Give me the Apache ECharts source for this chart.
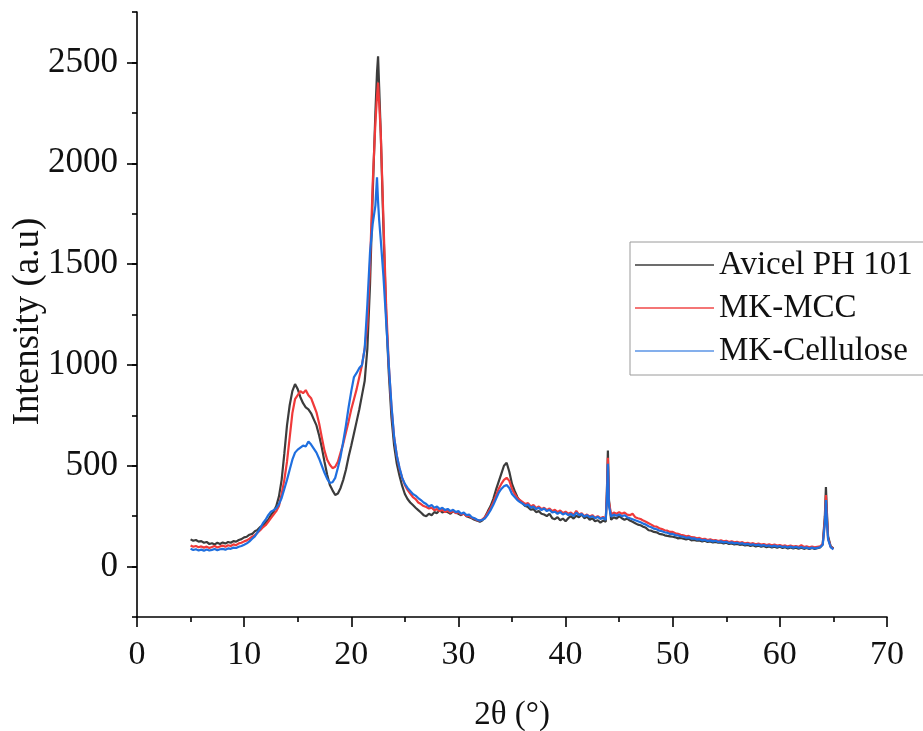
<!DOCTYPE html>
<html>
<head>
<meta charset="utf-8">
<script src="https://cdn.jsdelivr.net/npm/echarts@6/dist/echarts.min.js"></script>
<style>html,body{margin:0;padding:0;background:#fff}#chart{width:923px;height:731px}</style>
</head>
<body>
<div id="chart"></div>
<script>
// 2θ sampling positions (degrees)
const twoTheta = [
  5,5.25,5.5,5.75, 6,6.25,6.5,6.75, 7,7.25,7.5,7.75, 8,8.25,8.5,8.75,
  9,9.25,9.5,9.75, 10,10.25,10.5,10.75, 11,11.25,11.5,11.75, 12,12.25,12.5,12.75,
  13,13.25,13.5,13.75, 14,14.25,14.5,14.75, 15,15.25,15.5,15.75, 16,16.25,16.5,16.75,
  17,17.25,17.5,17.75, 18,18.25,18.5,18.75, 19,19.25,19.5,19.75, 20,20.25,20.5,20.75,
  21,21.25,21.5,21.75,
  22,22.25,22.4,22.5,22.6,
  22.75,23,23.25,23.5,23.75,
  24,24.25,24.5,24.75, 25,25.25,25.5,25.75, 26,26.25,26.5,26.75, 27,27.25,27.5,27.75,
  28,28.25,28.5,28.75, 29,29.25,29.5,29.75, 30,30.25,30.5,30.75, 31,31.25,31.5,31.75,
  32,32.25,32.5,32.75, 33,33.25,33.5,33.75, 34,34.25,34.5,34.75, 35,35.25,35.5,35.75,
  36,36.25,36.5,36.75, 37,37.25,37.5,37.75, 38,38.25,38.5,38.75, 39,39.25,39.5,39.75,
  40,40.25,40.5,40.75, 41,41.25,41.5,41.75, 42,42.25,42.5,42.75, 43,43.25,43.5,43.75,
  43.85,43.95,44.05,
  44.25,44.5,44.75,
  45,45.25,45.5,45.75, 46,46.25,46.5,46.75, 47,47.25,47.5,47.75, 48,48.25,48.5,48.75,
  49,49.25,49.5,49.75, 50,50.25,50.5,50.75, 51,51.25,51.5,51.75, 52,52.25,52.5,52.75,
  53,53.25,53.5,53.75, 54,54.25,54.5,54.75, 55,55.25,55.5,55.75, 56,56.25,56.5,56.75,
  57,57.25,57.5,57.75, 58,58.25,58.5,58.75, 59,59.25,59.5,59.75, 60,60.25,60.5,60.75,
  61,61.25,61.5,61.75, 62,62.25,62.5,62.75, 63,63.25,63.5,63.75,
  64,64.2,64.3,64.4,64.5,
  64.75,65
];

const avicel = [
  135,128,132,124, 126,118,122,112, 116,110,118,112, 120,114,122,118,
  126,124,132,136, 145,148,158,162, 175,182,196,204, 218,232,255,272,
  300,348,430,560, 700,800,870,905, 880,840,810,790, 780,760,730,700,
  650,590,520,455, 405,378,355,362, 390,430,480,545, 600,660,720,780,
  850,920,1080,1400,
  1850,2250,2450,2530,2380,
  2150,1680,1250,960,740,
  600,510,450,400, 360,335,318,305, 292,280,268,255, 250,262,255,270,
  265,280,268,275, 270,262,275,268, 262,255,265,250, 245,240,232,228,
  222,230,248,275, 300,335,380,420, 460,500,515,470, 410,375,345,325,
  312,300,295,282, 285,270,275,262, 258,250,262,240, 235,245,230,238,
  225,240,250,238, 252,245,258,240, 248,232,240,225, 230,218,228,222,
  360,575,330,
  232,245,238,
  250,240,232,238, 228,222,215,208, 205,198,192,180, 178,172,170,162,
  160,155,152,150, 148,145,140,142, 138,135,138,130, 132,128,130,125,
  128,122,125,120, 122,118,120,115, 118,112,115,110, 112,108,110,105,
  108,102,106,100, 104,98,102,96, 100,95,99,94, 98,92,96,90,
  95,90,94,88, 93,88,92,87, 92,88,91,95,
  110,250,395,260,150,
  100,90
];

const mkMCC = [
  105,98,102,96, 100,94,99,92, 97,102,95,100, 104,98,106,102,
  110,106,115,118, 125,130,138,148, 155,168,180,195, 205,222,240,258,
  275,300,360,430, 520,640,760,830, 850,870,860,875, 850,835,800,765,
  710,640,575,530, 505,488,495,520, 565,610,665,720, 780,830,880,940,
  1000,1080,1200,1500,
  1900,2200,2330,2400,2300,
  2150,1720,1300,1000,790,
  640,550,485,440, 405,380,362,345, 335,318,310,300, 295,288,292,280,
  285,275,282,270, 278,268,275,265, 270,258,262,250, 252,242,238,230,
  228,235,245,268, 290,318,350,385, 410,430,440,425, 385,360,340,330,
  320,310,315,298, 305,290,298,285, 292,280,288,275, 282,270,278,265,
  272,262,268,255, 276,258,265,250, 258,248,255,242, 250,240,246,238,
  350,540,320,
  258,268,262,
  270,262,268,258, 255,262,245,240, 236,228,222,215, 208,200,198,190,
  186,180,178,172, 172,165,162,158, 155,150,152,146, 145,140,142,136,
  138,132,135,130, 132,127,130,125, 128,122,125,120, 123,118,121,115,
  118,113,116,111, 114,109,112,107, 110,106,109,104, 107,102,105,100,
  104,99,102,98, 106,97,100,96, 99,95,98,100,
  112,230,355,240,140,
  98,88
];

const mkCellulose = [
  88,82,86,80, 84,79,85,80, 83,87,81,86, 88,84,90,88,
  94,92,98,102, 108,115,125,138, 150,170,190,215, 232,255,272,280,
  290,310,340,385, 430,480,530,565, 580,590,600,595, 620,605,585,565,
  535,500,465,435, 415,418,440,490, 545,620,700,790, 870,940,960,985,
  1000,1080,1300,1560,
  1700,1790,1930,1810,1720,
  1620,1440,1220,1000,800,
  640,550,490,440, 410,390,375,360, 352,340,330,318, 310,298,305,292,
  298,285,292,280, 286,275,282,270, 275,262,268,255, 258,245,240,232,
  228,232,240,258, 280,305,335,365, 385,398,405,390, 360,345,330,320,
  312,302,308,292, 298,285,292,280, 288,275,282,268, 272,262,270,258,
  265,255,262,250, 268,255,260,248, 255,245,250,240, 246,236,242,232,
  330,510,300,
  248,258,252,
  258,250,255,245, 240,235,230,225, 220,213,208,200, 195,188,185,178,
  175,170,168,162, 162,156,154,150, 148,143,145,139, 140,134,136,130,
  133,127,130,125, 128,122,125,120, 123,117,120,115, 118,113,116,110,
  113,108,111,106, 109,104,107,102, 105,100,104,99, 102,97,100,95,
  99,94,98,93, 97,92,95,90, 94,90,93,96,
  108,210,330,220,135,
  95,85
];

const seriesNames = ['Avicel PH 101', 'MK-MCC', 'MK-Cellulose'];
const seriesValues = [avicel, mkMCC, mkCellulose];
const seriesColors = ['#3c3c3c', '#f03a3a', '#1f6fdf'];
const legendColors = ['#3c3c3c', '#f04848', '#5b95e6'];
const yMajorTicks = [0, 500, 1000, 1500, 2000, 2500];

const FONT = '"Liberation Serif", "Times New Roman", serif';

const chart = echarts.init(document.getElementById('chart'), null, {renderer: 'canvas'});
chart.setOption({
  animation: false,
  backgroundColor: '#ffffff',
  grid: {left: 137, right: 36, top: 12, bottom: 114, containLabel: false, outerBoundsMode: 'none'},
  legend: {
    show: true,
    orient: 'vertical',
    left: 630, top: 242,
    padding: [5, 14, 6, 5],
    itemGap: 7,
    itemWidth: 79, itemHeight: 1.6,
    borderColor: '#9a9a9a', borderWidth: 1, borderRadius: 0,
    backgroundColor: '#ffffff',
    textStyle: {fontFamily: FONT, fontSize: 33, color: '#111', lineHeight: 36},
    data: seriesNames.map((n, k) => ({name: n, icon: 'rect', itemStyle: {color: legendColors[k]}}))
  },
  xAxis: {
    type: 'value', min: 0, max: 70, interval: 10,
    name: '2θ (°)', nameLocation: 'middle', nameGap: 82, nameMoveOverlap: false,
    nameTextStyle: {fontFamily: FONT, fontSize: 33, color: '#111'},
    axisLine: {onZero: false, lineStyle: {color: '#000', width: 1.6}},
    axisTick: {show: true, length: 10, lineStyle: {color: '#000', width: 1.6}},
    minorTick: {show: true, splitNumber: 2, length: 5, lineStyle: {color: '#000', width: 1.6}},
    axisLabel: {fontFamily: FONT, fontSize: 34, color: '#111', margin: 21},
    splitLine: {show: false}
  },
  yAxis: [{
    type: 'value', min: -250, max: 2750, interval: 250, position: 'left',
    name: 'Intensity (a.u)', nameLocation: 'middle', nameGap: 90, nameMoveOverlap: false,
    nameTextStyle: {fontFamily: FONT, fontSize: 37, color: '#111', padding: [0, 14, 0, 0]},
    axisLine: {show: true, onZero: false, lineStyle: {color: '#000', width: 1.6}},
    axisTick: {show: true, length: 5, lineStyle: {color: '#000', width: 1.6}},
    axisLabel: {
      fontFamily: FONT, fontSize: 35, color: '#111', margin: 19,
      formatter: v => (yMajorTicks.indexOf(v) >= 0 ? String(v) : '')
    },
    splitLine: {show: false}
  }, {
    type: 'value', min: -250, max: 2750, position: 'left', offset: 0,
    axisLine: {show: false, onZero: false},
    axisTick: {show: true, length: 10, customValues: yMajorTicks, lineStyle: {color: '#000', width: 1.6}},
    axisLabel: {show: false},
    splitLine: {show: false}
  }],
  series: seriesNames.map((name, k) => ({
    name: name,
    type: 'line',
    yAxisIndex: 0,
    symbol: 'none',
    showSymbol: false,
    smooth: false,
    lineStyle: {color: seriesColors[k], width: 2.2},
    itemStyle: {color: seriesColors[k]},
    data: twoTheta.map((x, i) => [x, seriesValues[k][i]]),
    z: 2 + k
  }))
});
</script>
</body>
</html>
